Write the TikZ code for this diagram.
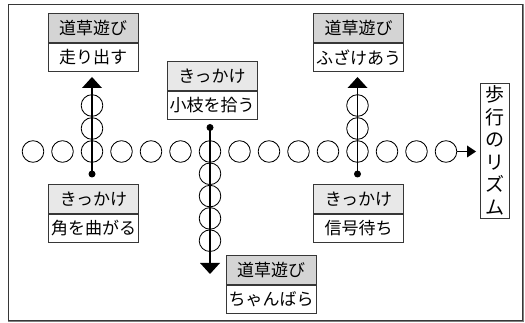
\documentclass[tikz,border=0pt]{standalone}
\usepackage{fontspec}
\newfontfamily\jp{Noto Sans CJK JP}
\usetikzlibrary{arrows.meta}
\definecolor{hdrdark}{RGB}{212,212,212}
\definecolor{hdrlight}{RGB}{232,232,232}
\definecolor{edge}{RGB}{55,55,55}
\begin{document}
\begin{tikzpicture}[x=1pt,y=-1pt,
  hdr/.style={draw=edge, line width=0.9pt, minimum width=90pt, minimum height=29pt, inner sep=0pt, anchor=north, font=\jp\fontsize{17}{19}\selectfont},
  hdrgray/.style={hdr, fill=hdrdark},
  hdrpale/.style={hdr, fill=hdrlight},
  bodybox/.style={draw=edge, line width=0.9pt, minimum width=90pt, minimum height=28pt, inner sep=0pt, anchor=north, fill=white, font=\jp\fontsize{17}{19}\selectfont},
  ring/.style={circle, draw=black, line width=0.85pt, minimum size=21.6pt, inner sep=0pt},
  dotnode/.style={circle, fill=black, minimum size=7pt, inner sep=0pt},
  bigtip/.tip={Triangle[width=20pt,length=11pt,line width=0pt]},
  stem/.style={line width=1.7pt, -bigtip}
]
\useasboundingbox (0,0) rectangle (525,323);
% frame
\fill[white] (8,4) rectangle (522,320);
\draw[gray, line width=2pt] (523,4) -- (523,321) -- (8,321);
\draw[edge, line width=0.9pt] (8,4) rectangle (522,320);

% main row of circles
\foreach \i in {1,...,15}
  \node[ring] (c\i) at ({33+(\i-1)*29.5},151.5) {};
% upward chains
\node[ring] (ua1) at (92,128.5) {};
\node[ring] (ua2) at (92,105.5) {};
\node[ring] (ub1) at (357.5,128.5) {};
\node[ring] (ub2) at (357.5,105.5) {};
% downward chain
\foreach \k in {1,...,4}
  \node[ring] (dn\k) at (210,{151.5+22.3*\k}) {};

% boxes
\node[hdrgray] (hA) at (93,13) {道草遊び};
\node[bodybox] (bA) at (hA.south) {走り出す};
\node[hdrpale] (hB) at (212,61) {きっかけ};
\node[bodybox] (bB) at (hB.south) {小枝を拾う};
\node[hdrgray] (hC) at (358.5,13) {道草遊び};
\node[bodybox] (bC) at (hC.south) {ふざけあう};
\node[hdrpale] (hD) at (93.5,184) {きっかけ};
\node[bodybox] (bD) at (hD.south) {角を曲がる};
\node[hdrpale] (hE) at (358.5,184) {きっかけ};
\node[bodybox] (bE) at (hE.south) {信号待ち};
\node[hdrgray] (hF) at (271,255) {道草遊び};
\node[bodybox] (bF) at (hF.south) {ちゃんばら};

\node[draw=edge, line width=0.9pt, minimum width=29pt, minimum height=135pt, inner sep=0pt, align=center, font=\jp\fontsize{19}{22.5}\selectfont] (rh) at (494.5,150.5) {歩\\行\\の\\リ\\ズ\\ム};

% dots and stems
\node[dotnode] (pA) at (92,174) {};
\node[dotnode] (pB) at (210,127.5) {};
\node[dotnode] (pE) at (357.5,174) {};
\coordinate (tA) at (92,77);
\coordinate (tB) at (210,274);
\coordinate (tE) at (357.5,77);
\coordinate (tR) at (476,151.5);
\draw[stem] (pA.center) -- (tA);
\draw[stem] (pB.center) -- (tB);
\draw[stem] (pE.center) -- (tE);
\draw[line width=1.5pt, -{Triangle[width=12pt,length=9pt,line width=0pt]}] (c15.east) -- (tR);
\end{tikzpicture}
\end{document}
